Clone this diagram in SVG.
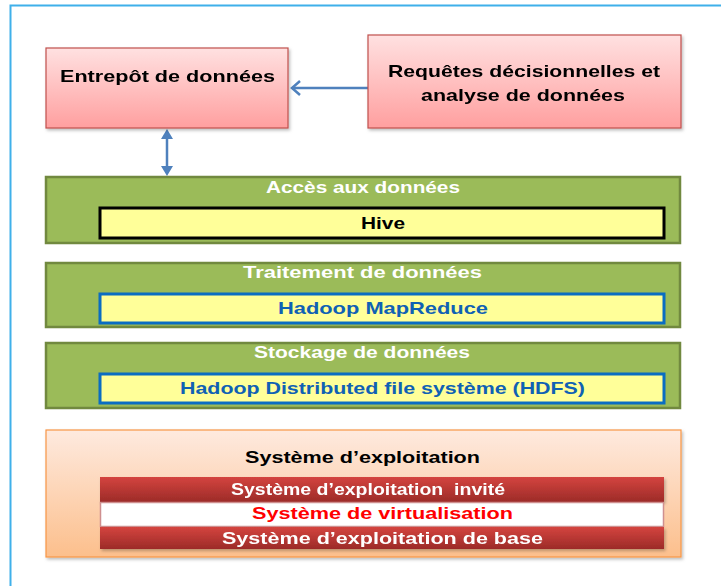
<svg xmlns="http://www.w3.org/2000/svg" width="721" height="586" viewBox="0 0 721 586">
  <style>
    text { font-family: "Liberation Sans", Arial, sans-serif; font-weight: bold; font-size: 17px; white-space: pre; }
    .dark { fill: #000000; }
    .white { fill: #ffffff; }
    .blue { fill: #1061b4; }
    .red { fill: #ff0000; }
    .pink { fill: url(#pinkGrad); stroke: #c0504d; stroke-width: 1.2; }
    .green { fill: #9bbb59; stroke: #71893f; stroke-width: 2.5; }
    .yellow { fill: #ffff99; stroke-width: 3; }
    .conn { stroke: #4f81bd; stroke-width: 2.5; fill: none; }
  </style>
  <defs>
    <linearGradient id="pinkGrad" x1="0" y1="0" x2="0" y2="1">
      <stop offset="0" stop-color="#ffe1e1"/>
      <stop offset="1" stop-color="#ff9f9f"/>
    </linearGradient>
    <linearGradient id="orangeGrad" x1="0" y1="0" x2="0" y2="1">
      <stop offset="0" stop-color="#feeadf"/>
      <stop offset="1" stop-color="#fcbf8c"/>
    </linearGradient>
    <linearGradient id="redGrad" x1="0" y1="0" x2="0" y2="1">
      <stop offset="0" stop-color="#d4443f"/>
      <stop offset="1" stop-color="#9c2b28"/>
    </linearGradient>
    <filter id="shadow" x="-5%" y="-10%" width="110%" height="130%">
      <feDropShadow dx="1.5" dy="2" stdDeviation="1.5" flood-color="#000000" flood-opacity="0.25"/>
    </filter>
  </defs>

  <rect x="0" y="0" width="721" height="586" fill="#ffffff"/>

  <!-- page frame -->
  <path d="M10.5 586 V5.5 H721" fill="none" stroke="#3fb0ea" stroke-width="2"/>

  <!-- connectors -->
  <g id="connectors">
    <line class="conn" x1="368" y1="88" x2="292" y2="88"/>
    <polyline class="conn" points="300,81 292,88 300,95"/>
    <line class="conn" x1="167" y1="136" x2="167" y2="168"/>
    <polygon points="167,129 161,139 173,139" fill="#4f81bd"/>
    <polygon points="167,176 161,166 173,166" fill="#4f81bd"/>
  </g>

  <g id="entrepot" filter="url(#shadow)">
    <rect class="pink" x="46" y="48" width="242" height="80"/>
    <text class="dark" x="60" y="82" textLength="215" lengthAdjust="spacingAndGlyphs">Entrepôt de données</text>
  </g>

  <g id="requetes" filter="url(#shadow)">
    <rect class="pink" x="368" y="35" width="313" height="93"/>
    <text class="dark" x="388" y="77" textLength="272" lengthAdjust="spacingAndGlyphs">Requêtes décisionnelles et</text>
    <text class="dark" x="421" y="101" textLength="204" lengthAdjust="spacingAndGlyphs">analyse de données</text>
  </g>

  <g id="acces">
    <rect class="green" x="46" y="177" width="634" height="66"/>
    <text class="white" x="266" y="193" textLength="194" lengthAdjust="spacingAndGlyphs">Accès aux données</text>
    <rect class="yellow" x="100" y="208" width="564" height="30" stroke="#000000"/>
    <text class="dark" x="361" y="229" textLength="44" lengthAdjust="spacingAndGlyphs">Hive</text>
  </g>

  <g id="traitement">
    <rect class="green" x="46" y="263" width="634" height="64"/>
    <text class="white" x="243" y="278" textLength="239" lengthAdjust="spacingAndGlyphs">Traitement de données</text>
    <rect class="yellow" x="100" y="294" width="564" height="29" stroke="#0a6dc2"/>
    <text class="blue" x="278" y="314" textLength="210" lengthAdjust="spacingAndGlyphs">Hadoop MapReduce</text>
  </g>

  <g id="stockage">
    <rect class="green" x="46" y="343" width="634" height="65"/>
    <text class="white" x="254" y="358" textLength="216" lengthAdjust="spacingAndGlyphs">Stockage de données</text>
    <rect class="yellow" x="100" y="374" width="564" height="29" stroke="#0a6dc2"/>
    <text class="blue" x="180" y="394" textLength="405" lengthAdjust="spacingAndGlyphs">Hadoop Distributed file système (HDFS)</text>
  </g>

  <g id="systeme">
    <rect x="46" y="430" width="635" height="127" fill="url(#orangeGrad)" stroke="#f79646" stroke-width="1.2" filter="url(#shadow)"/>
    <text class="dark" x="245" y="463" textLength="235" lengthAdjust="spacingAndGlyphs">Système d’exploitation</text>
    <g id="invite" filter="url(#shadow)">
      <rect x="100" y="477" width="564" height="25" fill="url(#redGrad)"/>
      <text class="white" x="231" y="495" textLength="274" lengthAdjust="spacingAndGlyphs">Système d’exploitation  invité</text>
    </g>
    <g id="virtualisation">
      <rect x="100.5" y="502.5" width="563" height="24" fill="#ffffff" stroke="#cf8f8f" stroke-width="1.5"/>
      <text class="red" x="252" y="519" textLength="261" lengthAdjust="spacingAndGlyphs">Système de virtualisation</text>
    </g>
    <g id="base" filter="url(#shadow)">
      <rect x="100" y="527" width="564" height="22" fill="url(#redGrad)"/>
      <text class="white" x="222" y="544" textLength="321" lengthAdjust="spacingAndGlyphs">Système d’exploitation de base</text>
    </g>
  </g>
</svg>
